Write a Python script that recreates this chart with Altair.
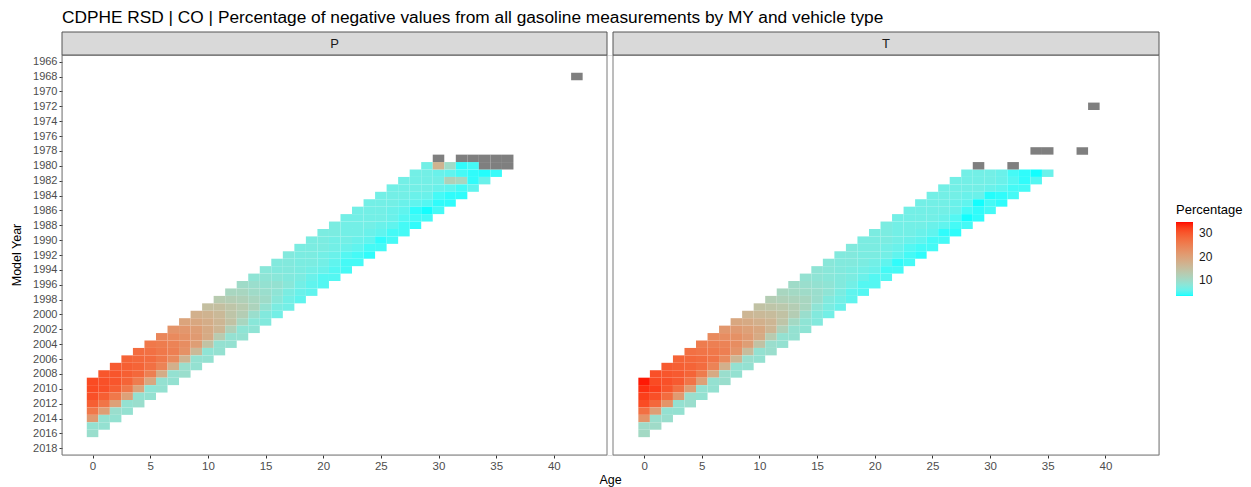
import altair as alt
import pandas as pd

TITLE = "CDPHE RSD | CO | Percentage of negative values from all gasoline measurements by MY and vehicle type"
PANELS = ["P", "T"]
MEAS_YEARS = [2009, 2010, 2011, 2012, 2013, 2014, 2015, 2016]
FIRST_MY = 1981  # first model year of each diagonal list below

# ---- P panel: one list per measurement year (diagonal), values for MY 1981 ... that year
p_2009 = [6.5, 6.5, 6.5, 6.5, 6.5, 6.5, 6.5, 7.0, 7.0, 7.0, 7.0, 7.5, 7.5, 8.0, 8.5, 10.0, 11.0, 13.0, 15.0,
          17.5, 19.5, 22.0, 24.0, 26.0, 27.5, 28.5, 29.5, 30.0, 31.0]
p_2010 = [6.5, 6.5, 6.5, 6.5, 6.5, 6.5, 6.5, 6.5, 7.0, 7.0, 7.0, 7.0, 7.5, 7.5, 8.5, 9.5, 11.0, 12.5, 15.0,
          17.0, 19.0, 21.5, 23.5, 25.5, 27.0, 28.0, 29.0, 30.0, 30.5, 31.0]
p_2011 = [6.0, 6.5, 6.5, 6.5, 6.5, 6.5, 6.5, 6.5, 6.5, 6.5, 7.0, 7.0, 7.0, 7.5, 8.0, 9.0, 10.0, 12.0, 14.0,
          16.0, 18.0, 20.5, 22.5, 24.5, 26.0, 27.5, 28.5, 29.0, 30.0, 30.5, 30.5]
p_2012 = [5.5, 6.5, 6.5, 6.0, 6.0, 6.0, 6.5, 6.5, 6.5, 6.5, 6.5, 6.5, 7.0, 7.0, 7.5, 9.0, 9.5, 11.0, 13.0,
          14.0, 16.5, 18.5, 21.0, 23.0, 25.0, 26.0, 27.0, 28.0, 28.5, 29.0, 29.0, 29.0]
p_2013 = [4.5, 12.0, 6.0, 6.0, 5.5, 5.5, 6.0, 6.0, 6.0, 6.0, 6.0, 6.0, 6.5, 6.5, 7.0, 8.0, 8.5, 10.0, 11.5,
          12.5, 14.5, 16.5, 18.5, 20.5, 22.5, 23.5, 24.5, 25.0, 25.5, 26.0, 26.0, 26.5, 26.0]
p_2014 = [4.0, 11.0, 5.5, 4.5, 5.0, 4.0, 5.0, 5.5, 5.5, 5.5, 5.5, 5.0, 5.5, 6.0, 6.0, 6.5, 7.0, 8.0, 9.0,
          9.5, 11.0, 12.0, 13.0, 14.5, 16.0, 17.0, 17.5, 18.0, 19.0, 19.5, 20.0, 20.0, 20.5, 21.0]
p_2015 = [3.8, 4.0, 4.5, 4.0, 4.0, 3.6, 4.5, 4.5, 4.5, 4.0, 4.5, 4.5, 4.5, 5.0, 5.0, 5.5, 6.0, 6.5, 7.0,
          7.5, 8.0, 8.5, 9.0, 9.0, 8.5, 9.0, 9.5, 9.0, 9.0, 8.5, 9.0, 9.0, 9.5, 9.0, 9.0]
p_2016 = [4.2, 6.0, 5.5, 4.0, 4.0, 4.5, 4.5, 4.0, 4.5, 4.5, 4.5, 4.0, 4.5, 4.5, 5.0, 5.0, 5.5, 5.5, 6.5,
          6.5, 7.5, 8.5, 9.0, 9.0, 9.0, 9.0, 9.0, 9.5, 9.0, 9.0, 9.0, 9.5, 9.0, 9.0, 9.0, 9.5]
# P, model year 1980, ages 29..33
p_1980 = [6.5, 17.0, 10.0, 4.0, 4.5]

# ---- T panel
t_2009 = [6.5, 6.5, 6.5, 6.5, 6.5, 6.5, 6.5, 7.0, 7.0, 7.0, 7.5, 7.5, 8.0, 8.5, 9.0, 10.0, 11.0, 12.5, 14.5,
          16.5, 19.0, 21.5, 23.5, 25.5, 27.0, 28.5, 29.5, 30.5, 34.0]
t_2010 = [6.5, 6.5, 6.5, 6.5, 6.5, 6.5, 6.5, 6.5, 7.0, 7.0, 7.0, 7.5, 7.5, 8.0, 8.5, 9.5, 10.5, 12.0, 14.0,
          16.0, 18.5, 21.0, 23.0, 25.0, 26.5, 28.0, 29.0, 30.0, 31.0, 33.0]
t_2011 = [6.5, 6.5, 6.5, 6.5, 6.5, 6.5, 6.5, 6.5, 6.5, 7.0, 7.0, 7.0, 7.5, 7.5, 8.0, 9.0, 10.0, 11.5, 13.5,
          15.5, 17.5, 20.0, 22.5, 24.5, 26.0, 27.5, 28.5, 29.5, 30.5, 32.0, 32.0]
t_2012 = [6.0, 6.5, 6.5, 6.0, 6.0, 6.5, 6.5, 6.5, 6.5, 6.5, 6.5, 7.0, 7.0, 7.0, 7.5, 8.5, 9.5, 11.0, 12.5,
          14.5, 16.5, 19.0, 21.0, 23.0, 25.0, 26.5, 27.5, 28.5, 29.5, 30.0, 30.5, 31.0]
t_2013 = [4.5, 6.0, 6.0, 6.0, 5.5, 6.0, 6.0, 6.0, 6.0, 6.0, 6.0, 6.5, 6.5, 6.5, 7.0, 7.5, 8.5, 9.5, 11.0,
          12.5, 14.0, 16.5, 18.5, 20.5, 22.0, 23.5, 24.5, 25.5, 26.5, 27.0, 27.5, 28.0, 27.0]
t_2014 = [4.0, 5.0, 5.5, 3.8, 3.6, 4.5, 5.0, 5.5, 5.5, 5.5, 5.0, 5.5, 5.5, 6.0, 6.0, 6.5, 7.0, 7.5, 8.5,
          9.5, 10.5, 12.0, 13.0, 14.5, 15.5, 16.5, 17.5, 18.5, 20.0, 20.5, 21.0, 22.0, 20.5, 22.0]
t_2015 = [3.6, 4.0, 4.5, 4.0, 4.5, 4.0, 3.6, 4.5, 4.0, 4.5, 4.5, 4.5, 4.0, 4.5, 5.0, 5.0, 5.5, 6.5, 7.0,
          7.5, 8.5, 9.0, 9.0, 9.5, 9.0, 9.5, 9.0, 9.5, 9.0, 9.0, 9.5, 9.0, 9.0, 9.5, 10.0]
t_2016 = [6.0, 5.0, 4.5, 4.5, 4.0, 4.5, 4.0, 4.5, 4.0, 4.5, 4.5, 4.0, 4.5, 4.5, 5.0, 5.0, 5.0, 5.5, 6.0,
          6.5, 7.5, 8.5, 9.0, 9.0, 9.5, 9.0, 9.0, 9.0, 9.5, 9.0, 9.0, 9.5, 9.0, 9.5, 10.0, 10.5]

# ---- cells with no value (drawn grey)
p_na_my = [1968, 1979, 1979, 1979, 1979, 1979, 1979, 1980, 1980, 1980]
p_na_age = [42, 30, 32, 33, 34, 35, 36, 34, 35, 36]
t_na_my = [1972, 1978, 1978, 1978, 1980, 1980]
t_na_age = [39, 34, 35, 38, 29, 32]

X_TICKS = [0, 5, 10, 15, 20, 25, 30, 35, 40]
Y_TICKS = list(range(1966, 2019, 2))

# ---------------- layout (pixels / scale geometry) ----------------
PANEL_SHIFT = {"P": 0.0, "T": 47.83}   # T panel drawn to the right on a shared x scale
X_DOM = [-2.65, 92.48]
Y_DOM = [1965.1, 2018.9]
W, H = 1097, 400
FONT = "Liberation Sans"

rows = []
for panel, diags in (("P", [p_2009, p_2010, p_2011, p_2012, p_2013, p_2014, p_2015, p_2016]),
                     ("T", [t_2009, t_2010, t_2011, t_2012, t_2013, t_2014, t_2015, t_2016])):
    for yr, vals in zip(MEAS_YEARS, diags):
        for i, v in enumerate(vals):
            my = FIRST_MY + i
            rows.append({"panel": panel, "my": my, "age": yr - my, "pct": v})
for i, v in enumerate(p_1980):
    rows.append({"panel": "P", "my": 1980, "age": 29 + i, "pct": v})
tiles = pd.DataFrame(rows)

na_rows = [{"panel": "P", "my": m, "age": a} for m, a in zip(p_na_my, p_na_age)]
na_rows += [{"panel": "T", "my": m, "age": a} for m, a in zip(t_na_my, t_na_age)]
na = pd.DataFrame(na_rows)

for df in (tiles, na):
    df["u"] = df["age"] + df["panel"].map(PANEL_SHIFT)
    df["x0"] = df["u"] - 0.5
    df["x1"] = df["u"] + 0.5
    df["y0"] = df["my"] - 0.5
    df["y1"] = df["my"] + 0.5

xvals = [t + PANEL_SHIFT[p] for p in PANELS for t in X_TICKS]
x_scale = alt.Scale(domain=X_DOM, nice=False, zero=False)
y_scale = alt.Scale(domain=Y_DOM, reverse=True, nice=False, zero=False)

x_axis = alt.Axis(values=xvals, title=None, domain=False, grid=False, tickSize=3, tickColor="#333333",
                  labelExpr="datum.value > 46 ? round(datum.value - 47.83) : round(datum.value)",
                  labelFontSize=11.5, labelColor="#4D4D4D", labelFont=FONT, labelPadding=2,
                  labelOverlap=False)
y_axis = alt.Axis(values=Y_TICKS, format="d", title=None, domain=False, grid=False, tickSize=3,
                  tickColor="#333333", labelFontSize=11, labelColor="#4D4D4D", labelFont=FONT,
                  labelPadding=2, labelOverlap=False, labelBaseline="middle")

base = alt.Chart(tiles)
heat = base.mark_rect(strokeWidth=0).encode(
    x=alt.X("x0:Q", scale=x_scale, axis=x_axis),
    x2="x1:Q",
    y=alt.Y("y0:Q", scale=y_scale, axis=y_axis),
    y2="y1:Q",
    color=alt.Color("pct:Q",
                    scale=alt.Scale(domain=[3.5, 34.5], range=["#00FFFF", "#FF0000"], interpolate="lab"),
                    legend=alt.Legend(title="Percentage", orient="none", legendX=1114, legendY=149,
                                      values=[10, 20, 30], gradientLength=74, gradientThickness=17,
                                      direction="vertical", titleFontSize=13, titleFontWeight="normal",
                                      titleFont=FONT, titleColor="#000000", labelFont=FONT,
                                      labelFontSize=12, labelColor="#1A1A1A", labelOffset=6,
                                      titlePadding=5, padding=0, gradientStrokeWidth=0)),
)

gray = alt.Chart(na).mark_rect(strokeWidth=0, color="#7F7F7F").encode(
    x=alt.X("x0:Q", scale=x_scale, axis=x_axis), x2="x1:Q",
    y=alt.Y("y0:Q", scale=y_scale, axis=y_axis), y2="y1:Q")

one = pd.DataFrame({"k": [0]})
frames = []
strip_text = []
for p, (a, b) in zip(PANELS, [(0, 545), (551, W)]):
    frames.append(alt.Chart(one).mark_rect(fill=None, stroke="#7a7a7a", strokeWidth=1).encode(
        x=alt.value(a), x2=alt.value(b), y=alt.value(0), y2=alt.value(H)))
    frames.append(alt.Chart(one).mark_rect(fill="#D9D9D9", stroke="#555555", strokeWidth=1).encode(
        x=alt.value(a), x2=alt.value(b), y=alt.value(-23), y2=alt.value(0)))
    strip_text.append(alt.Chart(one).mark_text(text=p, font=FONT, fontSize=13, color="#1A1A1A",
                                               baseline="middle").encode(
        x=alt.value((a + b) / 2), y=alt.value(-11.5)))

title = alt.Chart(one).mark_text(text=TITLE, font=FONT, fontSize=17.3, color="#000000", align="left",
                                 baseline="middle").encode(x=alt.value(0), y=alt.value(-37))
xtitle = alt.Chart(one).mark_text(text="Age", font=FONT, fontSize=12.5, color="#000000",
                                  baseline="alphabetic").encode(x=alt.value(W / 2), y=alt.value(429))
ytitle = alt.Chart(one).mark_text(text="Model Year", font=FONT, fontSize=12.5, color="#000000",
                                  angle=270, baseline="middle").encode(x=alt.value(-45), y=alt.value(H / 2))

chart = alt.layer(heat, gray, *frames, *strip_text, title, xtitle, ytitle).properties(
    width=W, height=H,
    autosize=alt.AutoSizeParams(type="none"),
    padding={"left": 54, "top": 47, "right": 84, "bottom": 32},
).configure_view(stroke=None).configure(background="white")

chart.save("out.html", embed_options={"renderer": "svg", "actions": False})
